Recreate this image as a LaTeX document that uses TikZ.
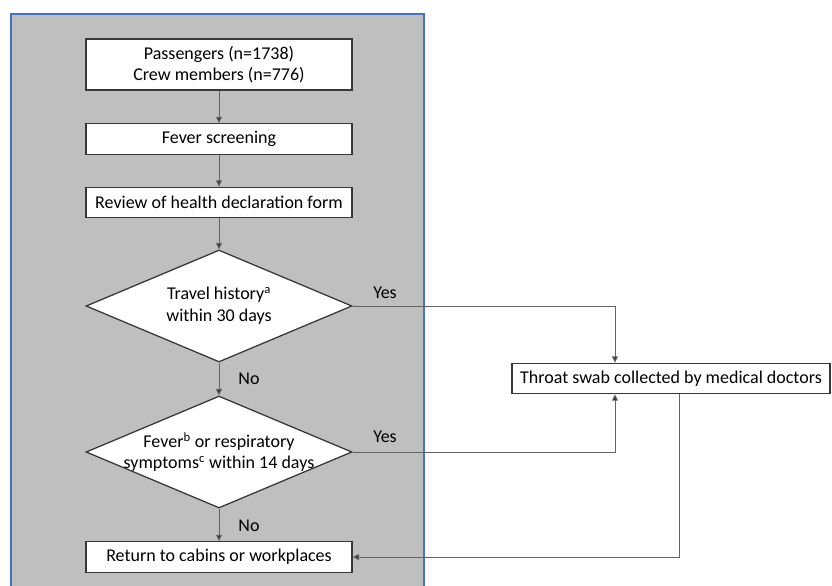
\documentclass[tikz,border=0pt]{standalone}
\usepackage{fontspec}
\setmainfont{Carlito}
\usepackage{xcolor}
\usetikzlibrary{arrows.meta,positioning,calc,shapes.geometric}
\definecolor{panelgray}{RGB}{191,191,191}
\definecolor{panelblue}{RGB}{68,114,196}
\definecolor{boxline}{RGB}{55,55,55}
\definecolor{wire}{RGB}{100,100,100}
\tikzset{
  stepbox/.style={draw=boxline,line width=0.9pt,fill=white,minimum width=6.65cm,
    minimum height=0.76cm,align=center,inner sep=2pt},
  decision/.style={diamond,draw=boxline,line width=0.9pt,fill=white,aspect=2.375,
    minimum width=6.65cm,minimum height=2.8cm,inner xsep=-0.35cm,inner ysep=0pt,
    align=center},
  flow/.style={wire,line width=0.7pt,-{Triangle[length=1.6mm,width=1.5mm,fill=black!80]}},
  label/.style={font=\fontsize{12.8}{15.4}\selectfont,text=black}
}
\begin{document}
\begin{tikzpicture}[font=\fontsize{12.8}{15.4}\selectfont]
  \useasboundingbox (0,0) rectangle (20.8,-14.625);
  % screening panel
  \draw[panelblue,line width=1pt,fill=panelgray] (0.275,-0.35) rectangle (10.6,-14.8);
  \node[stepbox,minimum height=1.275cm] (crowd) at (5.475,-1.6125)
    {Passengers (n=1738)\\Crew members (n=776)};
  \node[stepbox] (fever) at (5.475,-3.475) {Fever screening};
  \node[stepbox] (form) at (5.475,-5.0625) {Review of health declaration form};
  \node[decision] (travel) at (5.475,-7.65)
    {Travel history\textsuperscript{a}\\within 30 days};
  \node[decision] (sympt) at (5.475,-11.3)
    {Fever\textsuperscript{b} or respiratory\\symptoms\textsuperscript{c} within 14 days};
  \node[stepbox] (back) at (5.475,-13.925) {Return to cabins or workplaces};
  \node[stepbox,minimum width=7.95cm] (swab) at (16.775,-9.4625)
    {Throat swab collected by medical doctors};
  \coordinate (swabin) at ([xshift=-1.4cm]swab.north);
  \coordinate (swabup) at ([xshift=-1.4cm]swab.south);
  \coordinate (swabout) at ([xshift=2mm]swab.south);
  % main column
  \draw[flow] (crowd) -- (fever);
  \draw[flow] (fever) -- (form);
  \draw[flow] (form) -- (travel);
  \draw[flow] (travel) -- (sympt);
  \draw[flow] (sympt) -- (back);
  % branches
  \draw[flow] (travel.east) -| (swabin);
  \draw[flow] (sympt.east) -| (swabup);
  \draw[flow] (swabout) |- (back.east);
  \node[label] (yes1) at (9.625,-7.325) {Yes};
  \node[label] (yes2) at (9.625,-10.925) {Yes};
  \node[label] (no1) at (6.225,-9.475) {No};
  \node[label] (no2) at (6.225,-13.15) {No};
\end{tikzpicture}
\end{document}
